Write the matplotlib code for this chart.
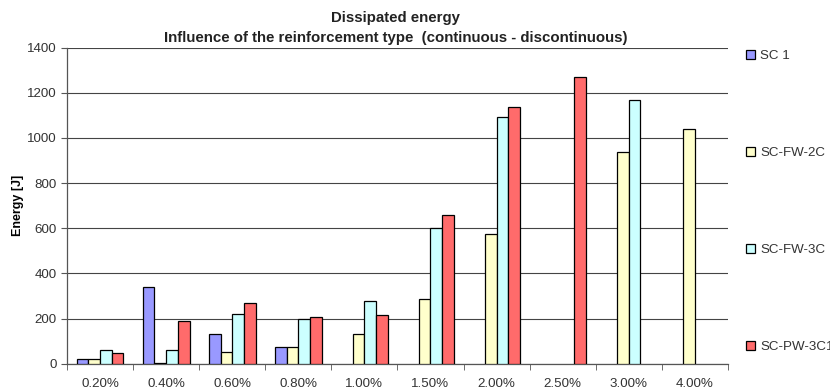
import matplotlib
matplotlib.use("Agg")
import matplotlib.pyplot as plt
import numpy as np

plt.rcParams['font.family'] = ['Liberation Sans', 'DejaVu Sans']

categories = ["0.20%", "0.40%", "0.60%", "0.80%", "1.00%", "1.50%", "2.00%", "2.50%", "3.00%", "4.00%"]
series_names = ["SC 1", "SC-FW-2C", "SC-FW-3C", "SC-PW-3C1"]
sc1 = [20, 340, 133, 74, np.nan, np.nan, np.nan, np.nan, np.nan, np.nan]
fw2c = [20, 4, 53, 74, 133, 287, 575, np.nan, 939, 1040]
fw3c = [62, 62, 220, 197, 279, 603, 1094, np.nan, 1170, np.nan]
pw3c1 = [46, 190, 270, 206, 214, 657, 1136, 1268, np.nan, np.nan]
colors = ["#9999FF", "#FFFFCC", "#CCFFFF", "#FF6B6B"]
yticks = [0, 200, 400, 600, 800, 1000, 1200, 1400]

fig = plt.figure(figsize=(8.3, 3.91), dpi=100)
ax = fig.add_axes([0.0807, 0.0698, 0.7963, 0.8084])

x = np.arange(len(categories))
w = 0.177
data = [sc1, fw2c, fw3c, pw3c1]
handles = []
for i, (vals, c, name) in enumerate(zip(data, colors, series_names)):
    b = ax.bar(x + (i - 1.5) * w, vals, width=w, color=c, edgecolor="black",
               linewidth=0.9, label=name, zorder=3)
    handles.append(b)

ax.set_xlim(-0.5, len(categories) - 0.5)
ax.set_ylim(0, 1400)
ax.set_yticks(yticks)
ax.set_xticks(x)
ax.set_xticklabels(categories)
ax.set_xticks(np.arange(-0.5, len(categories) + 0.5, 1), minor=True)
ax.tick_params(axis='x', which='major', length=0, pad=10, labelsize=9.6, colors='#333333')
ax.tick_params(axis='x', which='minor', length=4, direction='out', color='#555555')
ax.tick_params(axis='y', length=4, direction='out', labelsize=9.6, colors='#333333', color='#555555')
ax.yaxis.grid(True, color='#444444', linewidth=0.8, zorder=0)
for s in ['top', 'right']:
    ax.spines[s].set_visible(False)
for s in ['left', 'bottom']:
    ax.spines[s].set_color('#555555')
    ax.spines[s].set_linewidth(0.9)

ax.set_ylabel("Energy [J]", fontsize=9, fontweight='bold', labelpad=2)
fig.text(0.477, 0.953, "Dissipated energy", ha='center', va='center', fontsize=10.8, fontweight='bold', color='#222222')
fig.text(0.477, 0.902, "Influence of the reinforcement type  (continuous - discontinuous)", ha='center', va='center', fontsize=10.8, fontweight='bold', color='#222222')

leg = ax.legend(handles=handles, loc='upper left', bbox_to_anchor=(0.892, 0.887),
                bbox_transform=fig.transFigure, frameon=False, fontsize=9.6,
                labelspacing=6.35, handlelength=0.7, handleheight=0.7,
                handletextpad=0.4, borderaxespad=0)
for t in leg.get_texts():
    t.set_color('#333333')

fig.savefig("out.png", dpi=100)
